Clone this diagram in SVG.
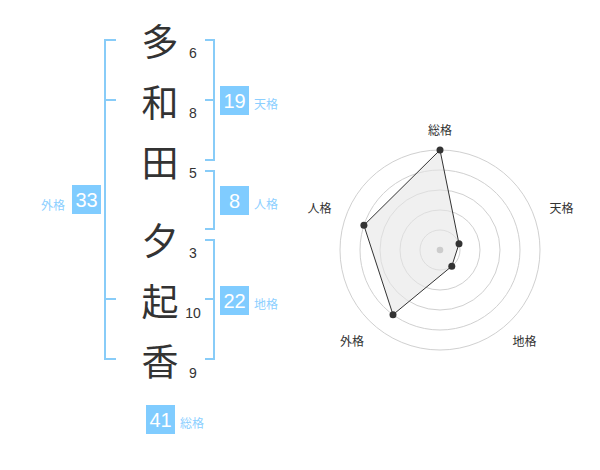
<svg xmlns="http://www.w3.org/2000/svg" width="600" height="470" viewBox="0 0 600 470">
<style>
.kanji{font-family:"Noto Sans CJK JP","Noto Sans CJK SC",sans-serif;font-size:37px;fill:#333;text-anchor:middle;dominant-baseline:central}
.num{font-family:"Liberation Sans",Arial,sans-serif;font-size:14px;fill:#333;text-anchor:middle}
.br{fill:none;stroke:#88ccf8;stroke-width:2}
.box{fill:#80ccff}
.bnum{font-family:"Liberation Sans",Arial,sans-serif;font-size:20px;fill:#fff;text-anchor:middle}
.lab{font-family:"Noto Sans CJK JP","Noto Sans CJK SC",sans-serif;font-size:12px;fill:#8ccfff}
.rlab{font-family:"Noto Sans CJK JP","Noto Sans CJK SC",sans-serif;font-size:12px;fill:#333;text-anchor:middle}
.ring{fill:none;stroke:#d0d0d0;stroke-width:1}
.pt{fill:#333}
</style>
<rect width="600" height="470" fill="#fff"/>
<g id="name">
<text class="kanji" x="160" y="40">多</text>
<text class="kanji" x="160" y="101">和</text>
<text class="kanji" x="160" y="161">田</text>
<text class="kanji" x="160" y="239">夕</text>
<text class="kanji" x="160" y="300">起</text>
<text class="kanji" x="160" y="360">香</text>
</g>
<g id="strokes">
<text class="num" x="193" y="57.5">6</text>
<text class="num" x="193" y="117.5">8</text>
<text class="num" x="193" y="177.5">5</text>
<text class="num" x="193" y="257.5">3</text>
<text class="num" x="193" y="317.5">10</text>
<text class="num" x="193" y="377.5">9</text>
</g>
<g id="connectors">
<path class="br" d="M116,40 H105 V359 H116 M105,100 H116 M105,299 H116"/>
<path class="br" d="M205,40 H214 V160 H205 M205,100 H214"/>
<path class="br" d="M205,171 H214 V229 H205"/>
<path class="br" d="M205,240 H214 V359 H205 M205,299 H214"/>
</g>
<g id="tenkaku">
<rect class="box" x="220" y="86" width="29" height="29"/>
<text class="bnum" x="234.5" y="107.5">19</text>
<text class="lab" x="254" y="109">天格</text>
</g>
<g id="jinkaku">
<rect class="box" x="220" y="186" width="29" height="29"/>
<text class="bnum" x="234.5" y="207.5">8</text>
<text class="lab" x="254" y="209">人格</text>
</g>
<g id="chikaku">
<rect class="box" x="220" y="286" width="29" height="29"/>
<text class="bnum" x="234.5" y="307.5">22</text>
<text class="lab" x="254" y="309">地格</text>
</g>
<g id="gaikaku">
<rect class="box" x="72" y="185" width="29" height="29"/>
<text class="bnum" x="86.5" y="206.5">33</text>
<text class="lab" x="65" y="210" text-anchor="end">外格</text>
</g>
<g id="soukaku">
<rect class="box" x="146" y="405" width="29" height="29"/>
<text class="bnum" x="160.5" y="426.5">41</text>
<text class="lab" x="180" y="428">総格</text>
</g>
<g id="radar">
<circle class="ring" cx="440" cy="250" r="20"/>
<circle class="ring" cx="440" cy="250" r="40"/>
<circle class="ring" cx="440" cy="250" r="60"/>
<circle class="ring" cx="440" cy="250" r="80"/>
<circle class="ring" cx="440" cy="250" r="100"/>
<polygon points="440,150 459,243.8 451.8,266.2 393,314.7 363.9,225.3" fill="#e6e6e6" fill-opacity="0.6" stroke="#333" stroke-width="1"/>
<circle cx="440" cy="250" r="3.3" fill="#ccc"/>
<circle class="pt" cx="440" cy="150" r="3.5"/>
<circle class="pt" cx="459" cy="243.8" r="3.5"/>
<circle class="pt" cx="451.8" cy="266.2" r="3.5"/>
<circle class="pt" cx="393" cy="314.7" r="3.5"/>
<circle class="pt" cx="363.9" cy="225.3" r="3.5"/>
<text class="rlab" x="440" y="135">総格</text>
<text class="rlab" x="561.5" y="213">天格</text>
<text class="rlab" x="524.5" y="346">地格</text>
<text class="rlab" x="352" y="346">外格</text>
<text class="rlab" x="319.5" y="213">人格</text>
</g>
</svg>
